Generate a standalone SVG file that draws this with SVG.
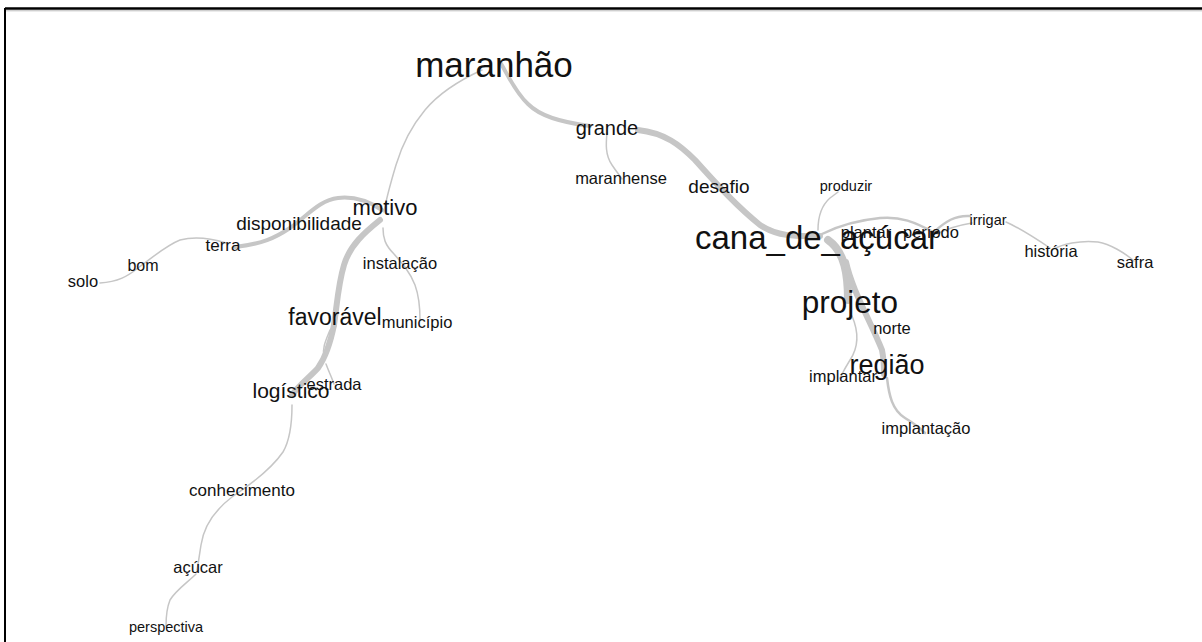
<svg xmlns="http://www.w3.org/2000/svg" width="1202" height="642" viewBox="0 0 1202 642">
<style>
text{font-family:"Liberation Sans",Arial,sans-serif;fill:#111;text-anchor:middle}
.e{fill:none;stroke:#c6c6c6;stroke-linecap:round;stroke-linejoin:round}
.t1{stroke-width:1.5}
.t2{stroke-width:2.5}
.t3{stroke-width:4}
.t4{stroke-width:6}
.t5{stroke-width:8}
</style>
<rect width="1202" height="642" fill="#fff"/>
<g id="frame">
<line x1="5" y1="8.5" x2="1202" y2="8.5" stroke="#000" stroke-width="2.5"/>
<line x1="5" y1="10.8" x2="1202" y2="10.8" stroke="#bbb" stroke-width="1"/>
<line x1="5" y1="8" x2="5" y2="642" stroke="#000" stroke-width="2"/>
</g>
<g id="connectors">
<path class="e t3" d="M500,62 C508,75 515,92 528,104 C540,116 560,122 590,126"/>
<path class="e t4" d="M638,130 C665,133 680,145 695,160 C715,182 735,205 760,225 C780,238 800,236 820,236"/>
<path class="e t1" d="M607,133 C606,143 605,155 612,165 C616,171 620,176 622,179"/>
<path class="e t5" d="M828,240 C845,252 848,275 848,300"/>
<path class="e t4" d="M846,262 C852,290 870,320 882,350 C884,360 884,368 884,374"/>
<path class="e t1" d="M852,316 C858,330 860,345 850,360 C845,368 842,374 840,378"/>
<path class="e t2" d="M887,378 C889,395 892,410 905,418 C915,424 922,430 925,433"/>
<path class="e t1" d="M818,230 C818,215 822,205 830,198 C834,195 837,193 838,192"/>
<path class="e t2" d="M822,234 C840,225 860,220 880,218 C900,216 915,222 935,233"/>
<path class="e t2" d="M935,231 C945,222 955,215 970,216"/>
<path class="e t1" d="M937,234 C948,228 960,225 972,223"/>
<path class="e t1" d="M1006,222 C1020,228 1035,238 1050,248"/>
<path class="e t1" d="M1052,250 C1062,244 1080,240 1098,242 C1110,244 1125,253 1134,261"/>
<path class="e t1" d="M482,70 C460,80 440,92 425,110 C410,128 402,145 396,165 C390,185 386,200 384,212"/>
<path class="e t1" d="M383,228 C383,238 385,245 394,254 C402,263 410,272 415,285 C419,296 420,308 420,320"/>
<path class="e t3" d="M382,210 C370,202 355,196 338,198 C320,200 308,215 290,228 C275,238 262,244 235,247"/>
<path class="e t1" d="M226,243 C210,238 195,236 180,240 C165,246 152,258 138,268 C128,276 118,282 100,283"/>
<path class="e t4" d="M380,220 C365,232 350,245 344,265 C338,285 337,305 334,325"/>
<path class="e t4" d="M334,325 C330,345 325,358 318,368 C310,377 300,384 292,395"/>
<path class="e t1" d="M330,330 C326,340 322,348 324,356"/>
<path class="e t1" d="M326,364 C329,372 332,378 334,384"/>
<path class="e t1" d="M292,405 C292,420 290,440 283,452 C272,468 250,485 232,497 C215,510 204,525 201,545 C199,558 198,565 197,570"/>
<path class="e t1" d="M196,574 C188,582 176,590 170,600 C166,610 166,618 166,626"/>
</g>
<g id="n-maranhao"><text x="494" y="77" font-size="35">maranhão</text></g>
<g id="n-grande"><text x="607" y="135" font-size="20">grande</text></g>
<g id="n-maranhense"><text x="621" y="184" font-size="16.5">maranhense</text></g>
<g id="n-desafio"><text x="719" y="193" font-size="19">desafio</text></g>
<g id="n-cana"><text x="817" y="249" font-size="33">cana_de_açúcar</text></g>
<g id="n-produzir"><text x="846" y="191" font-size="14.5">produzir</text></g>
<g id="n-plantar"><text x="866" y="238" font-size="16.5">plantar</text></g>
<g id="n-periodo"><text x="931" y="238" font-size="16.5">período</text></g>
<g id="n-irrigar"><text x="988" y="225" font-size="14.5">irrigar</text></g>
<g id="n-historia"><text x="1051" y="257" font-size="16.5">história</text></g>
<g id="n-safra"><text x="1135" y="268" font-size="16.5">safra</text></g>
<g id="n-projeto"><text x="850" y="313" font-size="31.5">projeto</text></g>
<g id="n-norte"><text x="892" y="334" font-size="16.5">norte</text></g>
<g id="n-implantar"><text x="843" y="382" font-size="16.5">implantar</text></g>
<g id="n-regiao"><text x="887" y="374" font-size="27">região</text></g>
<g id="n-implantacao"><text x="926" y="434" font-size="16.5">implantação</text></g>
<g id="n-motivo"><text x="385" y="215" font-size="22">motivo</text></g>
<g id="n-disponibilidade"><text x="299" y="230" font-size="19">disponibilidade</text></g>
<g id="n-terra"><text x="223" y="251" font-size="17">terra</text></g>
<g id="n-bom"><text x="143" y="271" font-size="16">bom</text></g>
<g id="n-solo"><text x="83" y="287" font-size="16.5">solo</text></g>
<g id="n-instalacao"><text x="400" y="269" font-size="16.5">instalação</text></g>
<g id="n-favoravel"><text x="335" y="325" font-size="23">favorável</text></g>
<g id="n-municipio"><text x="417" y="328" font-size="16.5">município</text></g>
<g id="n-estrada"><text x="334" y="390" font-size="16.5">estrada</text></g>
<g id="n-logistico"><text x="291" y="398" font-size="21">logístico</text></g>
<g id="n-conhecimento"><text x="242" y="496" font-size="17">conhecimento</text></g>
<g id="n-acucar"><text x="198" y="573" font-size="16.5">açúcar</text></g>
<g id="n-perspectiva"><text x="166" y="632" font-size="14.5">perspectiva</text></g>
</svg>
